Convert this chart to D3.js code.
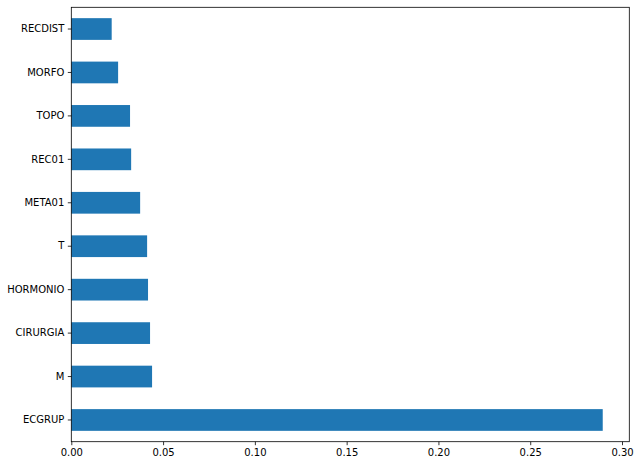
<!DOCTYPE html>
<html><head><meta charset="utf-8">
<script src="https://cdn.jsdelivr.net/npm/d3@7"></script>
<style>body{margin:0;background:#fff}svg{display:block}text{font-family:"DejaVu Sans",sans-serif}</style>
</head><body><svg id="c" width="638" height="466"></svg>
<script>
const categories = ["ECGRUP","M","CIRURGIA","HORMONIO","T","META01","REC01","TOPO","MORFO","RECDIST"];
const values = [0.2895,0.0440,0.0429,0.0418,0.0413,0.0375,0.0326,0.0320,0.0255,0.0220];
const xTicks = [0,0.05,0.10,0.15,0.20,0.25,0.30];
const xTickLabels = ["0.00","0.05","0.10","0.15","0.20","0.25","0.30"];

const svg = d3.select("#c");
const L = 71.3, R = 629.3, T = 7.3, B = 441.7;
const x = d3.scaleLinear().domain([0, d3.max(values)*1.05]).range([L, R]);
const y = d3.scaleBand().domain(categories.slice().reverse()).range([T, B]).paddingInner(0.5).paddingOuter(0.25);

svg.append("g").selectAll("rect").data(categories).join("rect")
  .attr("x", x(0)).attr("y", d => y(d))
  .attr("width", (d,i) => x(values[i]) - x(0))
  .attr("height", y.bandwidth())
  .attr("fill", "#1f77b4");

const xa = svg.append("g").attr("transform", `translate(0,${B})`)
  .call(d3.axisBottom(x).tickValues(xTicks).tickFormat((d,i)=>xTickLabels[i]).tickSize(3.5).tickPadding(3.5));
const ya = svg.append("g").attr("transform", `translate(${L},0)`)
  .call(d3.axisLeft(y).tickSize(3.5).tickPadding(3.5));
[xa, ya].forEach(a => {
  a.select(".domain").remove();
  a.selectAll("text").attr("font-size", 10).attr("fill", "#000").attr("font-family", "DejaVu Sans");
  a.selectAll("line").attr("stroke", "#000").attr("stroke-width", 0.8);
});
svg.append("rect").attr("x", L).attr("y", T).attr("width", R-L).attr("height", B-T)
  .attr("fill", "none").attr("stroke", "#000").attr("stroke-width", 0.8);
</script></body></html>
